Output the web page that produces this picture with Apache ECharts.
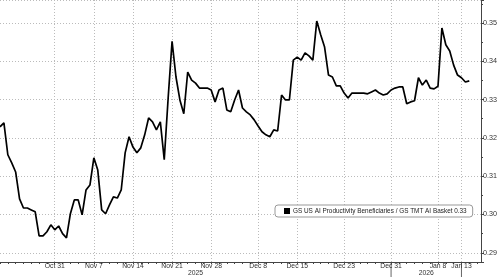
<!DOCTYPE html>
<html><head><meta charset="utf-8">
<script src="https://cdn.jsdelivr.net/npm/echarts@6/dist/echarts.min.js"></script>
<style>html,body{margin:0;padding:0;background:#fff}#c{width:500px;height:277px}</style>
</head><body><div id="c"></div>
<script>
// Weekdays shown on the axis (two samples per day)
const days = [
 '2025-10-22','2025-10-23','2025-10-24','2025-10-27','2025-10-28','2025-10-29','2025-10-30','2025-10-31',
 '2025-11-03','2025-11-04','2025-11-05','2025-11-06','2025-11-07','2025-11-10','2025-11-11','2025-11-12','2025-11-13','2025-11-14',
 '2025-11-17','2025-11-18','2025-11-19','2025-11-20','2025-11-21','2025-11-24','2025-11-25','2025-11-26','2025-11-27','2025-11-28',
 '2025-12-01','2025-12-02','2025-12-03','2025-12-04','2025-12-05','2025-12-08','2025-12-09','2025-12-10','2025-12-11','2025-12-12',
 '2025-12-15','2025-12-16','2025-12-17','2025-12-18','2025-12-19','2025-12-22','2025-12-23','2025-12-24','2025-12-25','2025-12-26',
 '2025-12-29','2025-12-30','2025-12-31','2026-01-01','2026-01-02','2026-01-05','2026-01-06','2026-01-07','2026-01-08','2026-01-09',
 '2026-01-12','2026-01-13','2026-01-14','2026-01-15'
];
const sessions = ['AM','PM'];
const ratio = [
 0.3229,0.3239, 0.3156,0.3135, 0.3111,0.3041, 0.3017,0.3017, 0.3012,0.3007, 0.2944,0.2944, 0.2955,0.2973, 0.2960,0.2970,
 0.2950,0.2939, 0.3002,0.3038, 0.3038,0.2999, 0.3064,0.3077, 0.3148,0.3116,
 0.3012,0.3002, 0.3025,0.3046, 0.3043,0.3064, 0.3161,0.3203, 0.3176,0.3161,
 0.3174,0.3208, 0.3252,0.3242, 0.3221,0.3242, 0.3143,0.3304, 0.3452,0.3359,
 0.3299,0.3263, 0.3372,0.3351, 0.3343,0.3330, 0.3330,0.3330, 0.3325,0.3294,
 0.3325,0.3330, 0.3273,0.3268, 0.3299,0.3325, 0.3278,0.3268, 0.3260,0.3247,
 0.3231,0.3216, 0.3208,0.3203, 0.3221,0.3218, 0.3312,0.3299, 0.3299,0.3403,
 0.3411,0.3403, 0.3422,0.3414, 0.3403,0.3505, 0.3469,0.3437, 0.3364,0.3359,
 0.3336,0.3336, 0.3317,0.3304, 0.3317,0.3317, 0.3317,0.3317, 0.3315,0.3320,
 0.3325,0.3317, 0.3312,0.3315, 0.3325,0.3330, 0.3333,0.3333, 0.3289,0.3294,
 0.3297,0.3357, 0.3338,0.3351, 0.3330,0.3328, 0.3335,0.3487, 0.3443,0.3427,
 0.3390,0.3364, 0.3357,0.3346, 0.3349,null, null,null
];
const tickDates = ['2025-10-31','2025-11-07','2025-11-14','2025-11-21','2025-11-28','2025-12-08','2025-12-15','2025-12-23','2025-12-31','2026-01-08','2026-01-13'];
const yearLabels = ['2025','2026'];
const yearBreaks = ['2025-12-31','2026-01-13'];
const seriesName = 'GS US AI Productivity Beneficiaries / GS TMT AI Basket';
const yMin = 0.2876, yMax = 0.356;

const categories = [];
days.forEach(d => sessions.forEach(s => categories.push(d + ' ' + s)));
const lastVal = ratio.filter(v => v != null).slice(-1)[0];
const months = ['Jan','Feb','Mar','Apr','May','Jun','Jul','Aug','Sep','Oct','Nov','Dec'];
const isTick = (i, v) => tickDates.some(t => v === t + ' AM');
const isDayStart = (i, v) => v.endsWith('AM');
const FONT = "'Liberation Sans',Arial,sans-serif";

const chart = echarts.init(document.getElementById('c'), null, {renderer: 'canvas'});
chart.setOption({
  animation: false,
  backgroundColor: '#fff',
  grid: {left: 0, right: 18, top: 0, bottom: 15, containLabel: false},
  legend: {
    left: 275, top: 205, padding: [3, 6, 3, 9],
    borderColor: '#999', borderWidth: 1, borderRadius: 3, backgroundColor: '#fff',
    icon: 'rect', itemWidth: 6, itemHeight: 6, itemGap: 4,
    textStyle: {fontFamily: FONT, fontSize: 6.4, color: '#222', padding: [0, 0, 0, -2]},
    formatter: n => n + ' ' + lastVal.toFixed(2),
    data: [seriesName]
  },
  xAxis: {
    type: 'category', boundaryGap: false, data: categories,
    axisLine: {lineStyle: {color: '#444', width: 1}},
    axisTick: {interval: isDayStart, length: 2, lineStyle: {color: '#444'}},
    axisLabel: {
      interval: isTick, fontFamily: FONT, fontSize: 6.8, color: '#333', margin: 1,
      formatter: v => { const p = v.split(' ')[0].split('-'); return months[+p[1]-1] + ' ' + (+p[2]); }
    },
    splitLine: {show: true, interval: isTick, lineStyle: {type: [1, 2], color: '#bbb', width: 1}}
  },
  yAxis: {
    type: 'value', position: 'right', min: yMin, max: yMax, splitNumber: 7, scale: true,
    axisLine: {show: true, lineStyle: {color: '#444'}},
    axisTick: {show: true, length: 3, lineStyle: {color: '#444'}},
    minorTick: {show: true, splitNumber: 2, length: 2, lineStyle: {color: '#444'}},
    axisLabel: {fontFamily: FONT, fontSize: 7.2, color: '#333', margin: 2, showMinLabel: false, showMaxLabel: false,
      formatter: v => v.toFixed(2)},
    splitLine: {show: true, lineStyle: {type: [1, 2], color: '#bbb', width: 1}}
  },
  series: [{
    name: seriesName, type: 'line', data: ratio, showSymbol: false, symbol: 'none',
    lineStyle: {color: '#000', width: 1.7}, itemStyle: {color: '#000'},
    markLine: {
      silent: true, symbol: 'none', lineStyle: {opacity: 0},
      data: [{yAxis: lastVal}],
      label: {position: 'end', distance: 2, formatter: () => lastVal.toFixed(2), backgroundColor: '#111',
        color: '#fff', fontFamily: FONT, fontSize: 7.2, padding: [2, 2, 1, 2], borderRadius: 2}
    }
  }]
});

// Year band labels beneath the date labels
const bx = yearBreaks.map(d => chart.convertToPixel({xAxisIndex: 0}, d + ' AM'));
const g = [
  {type: 'text', x: bx[0] / 2, y: 270, style: {text: yearLabels[0], font: "6.8px " + FONT, fill: '#333', align: 'center'}},
  {type: 'text', x: (bx[0] + bx[1]) / 2, y: 270, style: {text: yearLabels[1], font: "6.8px " + FONT, fill: '#333', align: 'center'}},
  {type: 'line', shape: {x1: bx[0], y1: 263, x2: bx[0], y2: 277}, style: {stroke: '#666', lineWidth: 1}},
  {type: 'line', shape: {x1: bx[1], y1: 263, x2: bx[1], y2: 277}, style: {stroke: '#666', lineWidth: 1}},
  {type: 'rect', shape: {x: 278.5, y: 210.5, width: 3, height: 3}, style: {fill: '#fff', stroke: '#aaa', lineWidth: 1}}
];
chart.setOption({graphic: g});
</script></body></html>
